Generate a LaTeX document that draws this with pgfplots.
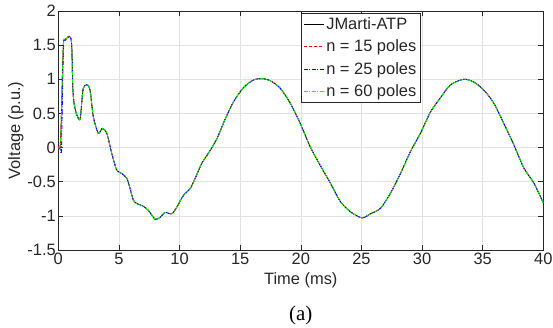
\documentclass[border=0pt]{standalone}
\usepackage{fontspec}
\setmainfont{Liberation Sans}
\newfontfamily\seriffont{Liberation Serif}
\usepackage{pgfplots}
\pgfplotsset{compat=1.18}
\definecolor{axgray}{RGB}{38,38,38}
\definecolor{gridgray}{RGB}{225,225,225}
\pgfplotstableread{
t v
0 0
0.14 0.01
0.22 0.25
0.41 1.48
0.55 1.57
0.83 1.62
1.05 1.60
1.13 1.38
1.19 0.89
1.30 0.65
1.52 0.48
1.79 0.41
1.93 0.65
2.06 0.87
2.35 0.92
2.62 0.84
2.89 0.45
3.30 0.21
3.63 0.28
4.00 0.21
4.41 -0.085
4.82 -0.33
5.24 -0.38
5.65 -0.45
5.92 -0.60
6.19 -0.77
6.48 -0.82
7.02 -0.86
7.43 -0.92
7.99 -1.05
8.40 -1.02
8.81 -0.95
9.36 -0.97
9.78 -0.87
10.32 -0.70
10.88 -0.60
11.29 -0.45
11.84 -0.23
12.53 -0.04
13.08 0.13
13.77 0.42
14.45 0.67
15.28 0.88
16.10 0.99
16.80 1.01
17.48 0.98
18.30 0.87
19.13 0.65
19.96 0.35
20.78 0.01
21.60 -0.26
22.44 -0.52
23.26 -0.79
24.09 -0.94
25.05 -1.03
25.74 -0.97
26.57 -0.89
27.39 -0.67
28.22 -0.38
29.04 -0.06
29.87 0.21
30.69 0.52
31.52 0.73
32.35 0.92
33.44 1.00
34.27 0.96
35.10 0.84
35.92 0.65
36.75 0.35
37.57 0.04
38.40 -0.30
39.22 -0.52
40.00 -0.81
}\jmarti
\pgfplotstableread{
t v
0 0.02
0.10 -0.03
0.22 0.25
0.41 1.49
0.55 1.58
0.83 1.63
1.05 1.60
1.13 1.38
1.19 0.89
1.30 0.65
1.52 0.48
1.79 0.41
1.93 0.65
2.06 0.87
2.35 0.92
2.62 0.84
2.89 0.45
3.30 0.21
3.63 0.28
4.00 0.21
4.41 -0.085
4.82 -0.33
5.24 -0.38
5.65 -0.45
5.92 -0.60
6.19 -0.77
6.48 -0.82
7.02 -0.86
7.43 -0.92
7.99 -1.05
8.40 -1.02
8.81 -0.95
9.36 -0.97
9.78 -0.87
10.32 -0.70
10.88 -0.60
11.29 -0.45
11.84 -0.23
12.53 -0.04
13.08 0.13
13.77 0.42
14.45 0.67
15.28 0.88
16.10 0.99
16.80 1.01
17.48 0.98
18.30 0.87
19.13 0.65
19.96 0.35
20.78 0.01
21.60 -0.26
22.44 -0.52
23.26 -0.79
24.09 -0.94
25.05 -1.03
25.74 -0.97
26.57 -0.89
27.39 -0.67
28.22 -0.38
29.04 -0.06
29.87 0.21
30.69 0.52
31.52 0.73
32.35 0.92
33.44 1.00
34.27 0.96
35.10 0.84
35.92 0.65
36.75 0.35
37.57 0.04
38.40 -0.30
39.22 -0.52
40.00 -0.81
}\poleA
\pgfplotstableread{
t v
0 0
0.15 -0.02
0.25 -0.08
0.30 0.30
0.43 1.47
0.55 1.57
0.83 1.61
1.05 1.59
1.13 1.38
1.19 0.89
1.30 0.65
1.52 0.48
1.79 0.41
1.93 0.65
2.06 0.87
2.35 0.92
2.62 0.84
2.89 0.45
3.30 0.21
3.63 0.28
4.00 0.21
4.41 -0.085
4.82 -0.33
5.24 -0.38
5.65 -0.45
5.92 -0.60
6.19 -0.77
6.48 -0.82
7.02 -0.86
7.43 -0.92
7.99 -1.05
8.40 -1.02
8.81 -0.95
9.36 -0.97
9.78 -0.87
10.32 -0.70
10.88 -0.60
11.29 -0.45
11.84 -0.23
12.53 -0.04
13.08 0.13
13.77 0.42
14.45 0.67
15.28 0.88
16.10 0.99
16.80 1.01
17.48 0.98
18.30 0.87
19.13 0.65
19.96 0.35
20.78 0.01
21.60 -0.26
22.44 -0.52
23.26 -0.79
24.09 -0.94
25.05 -1.03
25.74 -0.97
26.57 -0.89
27.39 -0.67
28.22 -0.38
29.04 -0.06
29.87 0.21
30.69 0.52
31.52 0.73
32.35 0.92
33.44 1.00
34.27 0.96
35.10 0.84
35.92 0.65
36.75 0.35
37.57 0.04
38.40 -0.30
39.22 -0.52
40.00 -0.81
}\poleB
\begin{document}
\begin{tikzpicture}
\begin{axis}[
  scale only axis,
  width=485bp, height=239bp,
  xmin=0, xmax=40, ymin=-1.5, ymax=2,
  xtick={0,5,...,40},
  ytick={-1.5,-1,...,2},
  yticklabels={-1.5,-1,-0.5,0,0.5,1,1.5,2},
  /pgf/number format/assume math mode=true,
  tick align=inside,
  tick pos=both,
  major tick length=5bp,
  grid=major,
  grid style={gridgray, line width=0.6pt},
  axis line style={axgray, line width=0.6pt},
  every tick/.style={axgray, line width=0.6pt},
  tick label style={font=\fontsize{16.5}{18}\selectfont, text=axgray},
  xticklabel style={yshift=0bp},
  yticklabel style={xshift=1bp},
  label style={font=\fontsize{16.5}{18}\selectfont, text=axgray},
  xlabel={Time (ms)},
  ylabel={Voltage (p.u.)},
  xlabel style={yshift=-1bp},
  ylabel style={yshift=-3bp},
  clip=false,
  legend cell align=left,
  legend style={
    at={(rel axis cs:0.747,0.99)}, anchor=north east,
    font=\fontsize{16.5}{18}\selectfont,
    draw=axgray, line width=0.6pt,
    inner sep=2pt, row sep=5bp,
    text=axgray,
  },
  legend image code/.code={\draw[#1] (0bp,0bp) -- (20bp,0bp);},
  every axis plot/.append style={line width=0.8pt, smooth, tension=0.45},
]
\addplot[black, solid] table[x=t,y=v] {\jmarti};
\addlegendentry{JMarti-ATP}
\addplot[red, dash pattern=on 3bp off 2bp] table[x=t,y=v] {\poleA};
\addlegendentry{n = 15 poles}
\addplot[blue, dash pattern=on 4bp off 1.5bp on 1bp off 1.5bp] table[x=t,y=v] {\poleB};
\addlegendentry{n = 25 poles}
\addplot[green, dash pattern=on 4bp off 1.5bp on 1bp off 1.5bp] table[x=t,y=v] {\jmarti};
\addlegendentry{n = 60 poles}
\coordinate (O) at (rel axis cs:0,0);
\coordinate (TR) at (rel axis cs:1,1);
\node[font=\seriffont\fontsize{21}{23}\selectfont, text=black] at ([yshift=-65bp]rel axis cs:0.5,0) {(a)};
\end{axis}
\pgfresetboundingbox
\path[use as bounding box] ([shift={(-58.3bp,-78bp)}]O) rectangle ([shift={(9.7bp,11bp)}]TR);
\end{tikzpicture}
\end{document}
